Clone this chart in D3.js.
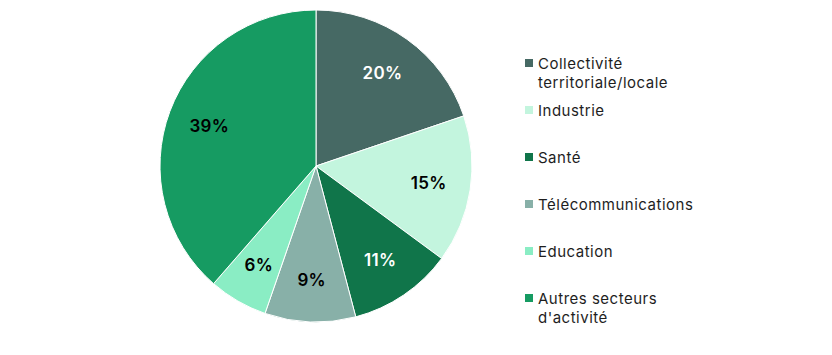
<!DOCTYPE html>
<html><head><meta charset="utf-8">
<script src="https://cdn.jsdelivr.net/npm/d3@7"></script>
<style>body{margin:0;background:#fff;}svg{display:block;font-family:Inter,"Open Sans",sans-serif;}</style>
</head><body>
<svg id="c" width="832" height="355"></svg>
<script>
const categories = ["Collectivité territoriale/locale","Industrie","Santé","Télécommunications","Education","Autres secteurs d'activité"];
const legendLines = [["Collectivité","territoriale/locale"],["Industrie"],["Santé"],["Télécommunications"],["Education"],["Autres secteurs","d'activité"]];
const values = [19.8, 15.3, 10.8, 9.4, 6.1, 38.6];
const labels = ["20%","15%","11%","9%","6%","39%"];
const colors = ["#466964","#c3f5de","#10754a","#88b0a8","#8aedc4","#169b62"];
const labelColors = ["#fff","#000","#fff","#000","#000","#000"];

const svg = d3.select("#c");
const cx = 316, cy = 166, R = 156;
const pie = d3.pie().sort(null).value(d => d);
const arcs = pie(values);
const arc = d3.arc().innerRadius(0).outerRadius(R);
const labelArc = d3.arc().innerRadius(114).outerRadius(114);
const g = svg.append("g").attr("transform", `translate(${cx},${cy})`);
g.selectAll("path").data(arcs).join("path")
  .attr("d", arc).attr("fill", (d,i) => colors[i])
  .attr("stroke", "#fff").attr("stroke-width", 1);
g.selectAll("text").data(arcs).join("text")
  .attr("transform", d => `translate(${labelArc.centroid(d)})`)
  .attr("text-anchor", "middle").attr("dominant-baseline", "central")
  .attr("font-size", 17).attr("font-weight", 600).attr("letter-spacing", 0.3)
  .attr("fill", (d,i) => labelColors[i])
  .text((d,i) => labels[i]);

const legY = d3.scalePoint().domain(d3.range(categories.length)).range([63, 298]);
const lg = svg.append("g");
categories.forEach((c, i) => {
  const y = legY(i);
  lg.append("rect").attr("x", 525).attr("y", y - 4).attr("width", 8).attr("height", 8).attr("fill", colors[i]);
  const t = lg.append("text").attr("x", 538).attr("y", y).attr("font-size", 15).attr("letter-spacing", 0.5).attr("fill", "#1e1e1e").attr("dominant-baseline","central");
  legendLines[i].forEach((l, j) => t.append("tspan").attr("x", 538).attr("dy", j === 0 ? 0 : 18.5).text(l));
});
</script>
</body></html>
